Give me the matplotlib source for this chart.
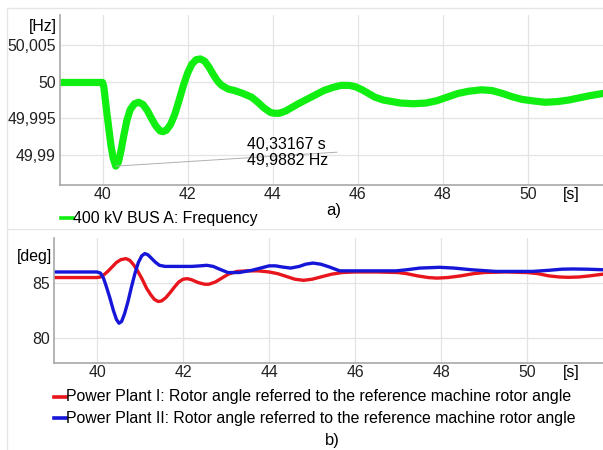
import matplotlib.pyplot as plt
from matplotlib.lines import Line2D

plt.rcParams['font.family'] = ['Liberation Sans', 'DejaVu Sans']

# panel a) frequency at 400 kV bus A
t_freq = [39.0, 40.0, 40.03, 40.06, 40.1, 40.15, 40.2, 40.25, 40.31, 40.37, 40.43, 40.5,
          40.57, 40.65, 40.75, 40.85, 40.95, 41.05, 41.15, 41.25, 41.35, 41.42, 41.5,
          41.6, 41.7, 41.8, 41.9, 42.0, 42.1, 42.2, 42.3, 42.4, 42.5, 42.6, 42.7, 42.8,
          42.95, 43.1, 43.3, 43.5, 43.65, 43.8, 43.95, 44.05, 44.15, 44.3, 44.45, 44.6,
          44.8, 45.0, 45.2, 45.4, 45.6, 45.8, 45.95, 46.1, 46.25, 46.4, 46.6, 46.8,
          47.0, 47.3, 47.6, 47.85, 48.1, 48.35, 48.6, 48.9, 49.15, 49.4, 49.6, 49.85,
          50.1, 50.4, 50.7, 50.95, 51.2, 51.45, 51.76]
freq = [49.9999, 49.9999, 49.9993, 49.9978, 49.9958, 49.9935, 49.9912, 49.9896, 49.9885,
        49.9890, 49.9905, 49.9927, 49.9947, 49.9962, 49.9970, 49.9972, 49.9969, 49.9961,
        49.9950, 49.9940, 49.9933, 49.9932, 49.9934, 49.9942, 49.9956, 49.9975, 49.9995,
        50.0012, 50.0024, 50.0030, 50.0031, 50.0028, 50.0020, 50.0010, 50.0001, 49.9995,
        49.9990, 49.9988, 49.9984, 49.9979, 49.9972, 49.9964, 49.9958, 49.9957, 49.9957,
        49.9960, 49.9965, 49.9970, 49.9976, 49.9982, 49.9988, 49.9992, 49.9995, 49.9995,
        49.9993, 49.9989, 49.9984, 49.9979, 49.9975, 49.9973, 49.9971, 49.9970, 49.9971,
        49.9974, 49.9979, 49.9984, 49.9987, 49.9989, 49.9988, 49.9984, 49.9980, 49.9976,
        49.9974, 49.9972, 49.9973, 49.9975, 49.9978, 49.9981, 49.9984]

# panel b) rotor angles
t_red = [39.0, 40.0, 40.08, 40.16, 40.25, 40.35, 40.45, 40.55, 40.67, 40.76, 40.85,
         40.95, 41.05, 41.15, 41.25, 41.33, 41.42, 41.5, 41.6, 41.7, 41.8, 41.9, 42.0,
         42.1, 42.2, 42.35, 42.5, 42.6, 42.75, 42.9, 43.05, 43.25, 43.5, 43.75, 44.0,
         44.2, 44.4, 44.6, 44.8, 45.0, 45.2, 45.45, 45.7, 46.0, 46.5, 47.0, 47.2, 47.45,
         47.7, 47.9, 48.15, 48.45, 48.75, 49.0, 49.5, 50.0, 50.25, 50.5, 50.75, 50.95,
         51.2, 51.45, 51.75]
angle_red = [85.45, 85.45, 85.5, 85.7, 86.0, 86.4, 86.8, 87.05, 87.15, 87.0, 86.6,
             86.0, 85.3, 84.5, 83.9, 83.5, 83.3, 83.35, 83.65, 84.1, 84.6, 85.05, 85.3,
             85.35, 85.25, 85.0, 84.85, 84.85, 85.05, 85.4, 85.75, 86.0, 86.05, 86.05,
             85.95, 85.8, 85.55, 85.3, 85.2, 85.3, 85.5, 85.75, 85.9, 85.95, 85.95, 85.9,
             85.8, 85.6, 85.45, 85.4, 85.45, 85.6, 85.8, 85.9, 85.95, 85.9, 85.8, 85.6,
             85.5, 85.47, 85.5, 85.6, 85.75]
t_blue = [39.0, 40.0, 40.08, 40.15, 40.22, 40.3, 40.38, 40.45, 40.51, 40.57, 40.64,
          40.72, 40.8, 40.88, 40.96, 41.04, 41.11, 41.18, 41.26, 41.35, 41.45, 41.58,
          41.9, 42.2, 42.4, 42.55, 42.7, 42.85, 43.04, 43.3, 43.6, 43.85, 44.0, 44.15,
          44.3, 44.5, 44.7, 44.85, 45.02, 45.2, 45.4, 45.64, 46.0, 46.5, 46.95, 47.2,
          47.5, 47.96, 48.3, 48.7, 49.27, 49.7, 50.12, 50.5, 50.8, 51.05, 51.4, 51.75]
angle_blue = [85.95, 85.95, 85.85, 85.4, 84.6, 83.6, 82.5, 81.7, 81.35, 81.5, 82.2,
              83.3, 84.6, 85.8, 86.8, 87.4, 87.6, 87.5, 87.2, 86.85, 86.55, 86.45,
              86.45, 86.45, 86.5, 86.55, 86.45, 86.2, 85.9, 85.9, 86.1, 86.35, 86.5,
              86.5, 86.4, 86.3, 86.45, 86.65, 86.75, 86.65, 86.4, 86.05, 86.05, 86.05,
              86.05, 86.15, 86.3, 86.37, 86.3, 86.15, 86.0, 86.0, 86.0, 86.1, 86.2,
              86.22, 86.2, 86.15]

x_ticks = [40, 42, 44, 46, 48, 50]
freq_ticks = [50.005, 50.0, 49.995, 49.99]
freq_labels = ['50,005', '50', '49,995', '49,99']
angle_ticks = [85, 80]

min_label = ['40,33167 s', '49,9882 Hz']

GREEN = '#11ee11'
RED = '#e8161c'
BLUE = '#1616d8'
GRID = '#e3e3e3'
SPINE = '#a8a8a8'
FS = 11.4

fig = plt.figure(figsize=(6.03, 4.5), dpi=100)
W, H = 603, 450


def style(ax):
    for s in ['top', 'right']:
        ax.spines[s].set_visible(False)
    for s in ['left', 'bottom']:
        ax.spines[s].set_color(SPINE)
        ax.spines[s].set_linewidth(1.2)
    ax.set_xlim(39.0, 51.76)
    ax.set_xticks(x_ticks)
    ax.tick_params(length=0, labelsize=FS, colors='#222222', pad=1.5)
    ax.grid(True, color=GRID, lw=0.9)
    ax.set_axisbelow(True)


# ---- panel a
ax1 = fig.add_axes([60 / W, 1 - 185 / H, 1 - 60 / W, 170 / H])
style(ax1)
ax1.set_ylim(49.98593, 50.00909)
ax1.set_yticks(freq_ticks)
ax1.set_yticklabels(freq_labels)
ax1.tick_params(axis='y', pad=3)
ax1.plot(t_freq, freq, color=GREEN, lw=5.2, solid_joinstyle='round')

i_min = freq.index(min(freq))
ax1.annotate('', xy=(t_freq[i_min], freq[i_min]), xytext=(45.51, 49.9904),
             arrowprops=dict(arrowstyle='-', color='#b0b0b0', lw=0.7,
                             shrinkA=0, shrinkB=0))
ax1.text(43.39, 49.99048, min_label[0], fontsize=FS, ha='left', va='bottom')
ax1.text(43.39, 49.99030, min_label[1], fontsize=FS, ha='left', va='top')

# ---- panel b
ax2 = fig.add_axes([54 / W, 1 - 363 / H, 1 - 54 / W, 125 / H])
style(ax2)
ax2.set_ylim(77.78, 89.0)
ax2.set_yticks(angle_ticks)
ax2.tick_params(axis='y', pad=3)
ax2.plot(t_red, angle_red, color=RED, lw=2.4, solid_joinstyle='round')
ax2.plot(t_blue, angle_blue, color=BLUE, lw=2.4, solid_joinstyle='round')

# unit labels
fig.text(57 / W, 1 - 27 / H, '[Hz]', fontsize=FS, ha='right', va='center')
fig.text(52 / W, 1 - 257 / H, '[deg]', fontsize=FS, ha='right', va='center')
fig.text(571 / W, 1 - 194 / H, '[s]', fontsize=FS, ha='center', va='center')
fig.text(571 / W, 1 - 372 / H, '[s]', fontsize=FS, ha='center', va='center')


# legends
def legend_row(x0, y, color, label, lw):
    fig.add_artist(Line2D([x0 / W, (x0 + 12) / W], [1 - y / H, 1 - y / H],
                          color=color, lw=lw, transform=fig.transFigure))
    fig.text((x0 + 12) / W, 1 - y / H, label, fontsize=FS, ha='left', va='center')


legend_row(61, 218, GREEN, '400 kV BUS A: Frequency', 2.6)
fig.text(334 / W, 1 - 211 / H, 'a)', fontsize=FS + 0.5, ha='center', va='center')
legend_row(54, 397, RED, 'Power Plant I: Rotor angle referred to the reference machine rotor angle', 2.6)
legend_row(54, 418, BLUE, 'Power Plant II: Rotor angle referred to the reference machine rotor angle', 2.6)
fig.text(332 / W, 1 - 440 / H, 'b)', fontsize=FS + 0.5, ha='center', va='center')

# light panel frames
FRAME = '#e6e6e6'
for y in [8, 229]:
    fig.add_artist(Line2D([7 / W, 1], [1 - y / H, 1 - y / H], color=FRAME, lw=1.0,
                          transform=fig.transFigure))
fig.add_artist(Line2D([7 / W, 7 / W], [1 - 8 / H, 0], color=FRAME, lw=1.0,
                      transform=fig.transFigure))

fig.savefig('out.png', dpi=100)
